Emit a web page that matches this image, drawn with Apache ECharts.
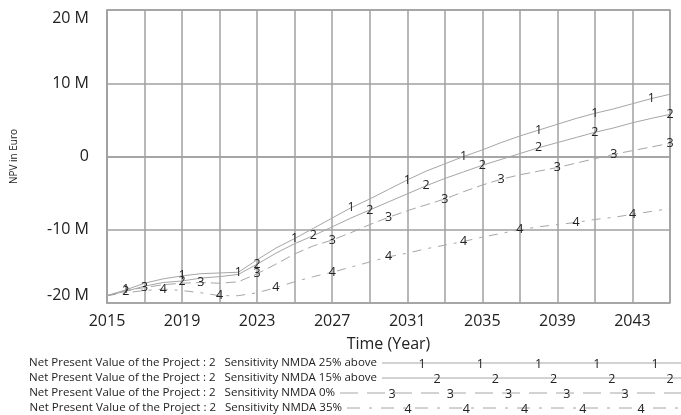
<!DOCTYPE html>
<html>
<head>
<meta charset="utf-8">
<script src="https://cdn.jsdelivr.net/npm/echarts@6/dist/echarts.min.js"></script>
<style>
  html, body { margin: 0; padding: 0; background: #fff; }
  #chart { width: 681px; height: 415px; }
</style>
</head>
<body>
<div id="chart"></div>
<script>
// years on the time axis
var years = [2015, 2016, 2017, 2018, 2019, 2020, 2021, 2022, 2023, 2024, 2025, 2026, 2027, 2028, 2029, 2030,
  2031, 2032, 2033, 2034, 2035, 2036, 2037, 2038, 2039, 2040, 2041, 2042, 2043, 2044, 2045]

// NPV in million euro
var npv25above = [-19.0, -18.2, -17.3, -16.7, -16.3, -16.0, -15.9, -15.8, -14.1, -12.5, -11.2, -9.8, -8.4, -7.0, -5.8, -4.5,
  -3.2, -2.0, -1.0, 0.0, 0.9, 1.9, 2.8, 3.6, 4.4, 5.2, 5.9, 6.5, 7.2, 7.9, 8.5]
var npv15above = [-19.0, -18.4, -17.7, -17.2, -17.0, -16.6, -16.4, -16.1, -14.7, -13.2, -11.9, -10.8, -9.6, -8.4, -7.3, -6.2,
  -5.1, -4.0, -3.0, -2.1, -1.2, -0.4, 0.4, 1.2, 1.9, 2.6, 3.3, 3.9, 4.6, 5.2, 5.75]
var npv0 = [-19.0, -18.3, -17.9, -17.5, -17.3, -17.2, -17.3, -17.1, -16.0, -14.7, -13.3, -12.2, -11.4, -10.4, -9.3, -8.3,
  -7.4, -6.6, -5.8, -4.8, -3.9, -3.1, -2.5, -2.0, -1.5, -0.9, -0.3, 0.3, 0.8, 1.3, 1.8]
var npv35 = [-19.0, -18.6, -18.3, -18.1, -18.3, -18.6, -19.0, -19.0, -18.6, -17.9, -17.1, -16.4, -15.8, -15.1, -14.4, -13.7,
  -13.2, -12.6, -12.1, -11.6, -11.0, -10.5, -10.0, -9.6, -9.3, -9.0, -8.6, -8.3, -7.9, -7.5, -7.1]

// years where the run number is written on each line
var marks25above = [2016, 2019, 2022, 2025, 2028, 2031, 2034, 2038, 2041, 2044]
var marks15above = [2016, 2019, 2023, 2026, 2029, 2032, 2035, 2038, 2041, 2045]
var marks0 = [2017, 2020, 2023, 2027, 2030, 2033, 2036, 2039, 2042, 2045]
var marks35 = [2018, 2021, 2024, 2027, 2030, 2034, 2037, 2040, 2043]

var namePrefix = 'Net Present Value of the Project : 2'
var sensitivityNames = ['Sensitivity NMDA 25% above', 'Sensitivity NMDA 15% above', 'Sensitivity NMDA 0%', 'Sensitivity NMDA 35%']

var yTicks = [-20, -10, 0, 10, 20]

var FONT = 'Open Sans'
var LINE = '#a6a6a6'
var TEXT = '#222'

var runs = [
  { values: npv25above, marks: marks25above, digit: '1', dash: 'solid', keyDash: '', keyWidth: 299, keyFirst: 40 },
  { values: npv15above, marks: marks15above, digit: '2', dash: 'solid', keyDash: '', keyWidth: 299, keyFirst: 55 },
  { values: npv0, marks: marks0, digit: '3', dash: [10, 5], keyDash: '18 9', keyWidth: 341, keyFirst: 52 },
  { values: npv35, marks: marks35, digit: '4', dash: [9, 7, 3, 7], keyDash: '13 9 3 9', keyWidth: 334, keyFirst: 61 }
]

function keyIcon(run) {
  var w = run.keyWidth
  var s = '<svg xmlns="http://www.w3.org/2000/svg" width="' + w + '" height="12">'
  s += '<line x1="0" y1="6" x2="' + w + '" y2="6" stroke="' + LINE + '" stroke-width="1"' +
    (run.keyDash ? ' stroke-dasharray="' + run.keyDash + '"' : '') + '/>'
  for (var x = run.keyFirst; x < w; x += 58.3) {
    s += '<text x="' + x + '" y="10.5" font-family="' + FONT + '" font-size="12.5" fill="#222" text-anchor="middle">' + run.digit + '</text>'
  }
  s += '</svg>'
  return 'image://data:image/svg+xml;charset=utf-8,' + encodeURIComponent(s)
}

var series = []
var legends = []
var keyTops = [357, 372, 387, 402]
runs.forEach(function(run, k) {
  var name = namePrefix + '  ' + sensitivityNames[k]
  series.push({
    name: name,
    type: 'line',
    symbol: 'none',
    silent: true,
    lineStyle: { color: LINE, width: 1, type: run.dash },
    itemStyle: { color: LINE },
    label: {
      show: false,
      position: 'inside',
      formatter: run.digit,
      color: '#222',
      fontFamily: FONT,
      fontSize: 12.5
    },
    data: years.map(function(yr, i) {
      if (run.marks.indexOf(yr) >= 0) {
        return { value: [yr, run.values[i]], symbol: 'circle', symbolSize: 0, label: { show: true } }
      }
      return [yr, run.values[i]]
    })
  })
  legends.push({
    data: [{ name: name, icon: keyIcon(run) }],
    right: 0,
    top: keyTops[k],
    padding: 0,
    align: 'right',
    itemWidth: run.keyWidth,
    itemHeight: 12,
    selectedMode: false,
    formatter: function(n) {
      return '{a|' + namePrefix + '}{b|' + n.slice(namePrefix.length + 2) + '}'
    },
    textStyle: {
      color: TEXT,
      fontFamily: FONT,
      fontSize: 11.5,
      rich: {
        a: { color: TEXT, fontFamily: FONT, fontSize: 11.5 },
        b: { color: TEXT, fontFamily: FONT, fontSize: 11.5, padding: [0, 0, 0, 9] }
      }
    }
  })
})

var chart = echarts.init(document.getElementById('chart'))
chart.setOption({
  animation: false,
  backgroundColor: '#fff',
  grid: {
    left: 107,
    right: 11,
    top: 10,
    bottom: 112,
    show: true,
    borderColor: '#a0a0a0',
    borderWidth: 1.5
  },
  legend: legends,
  xAxis: {
    type: 'value',
    min: years[0],
    max: years[years.length - 1],
    interval: 2,
    name: 'Time (Year)',
    nameLocation: 'middle',
    nameGap: 33,
    nameTextStyle: { color: TEXT, fontFamily: FONT, fontSize: 16 },
    axisLine: { show: true, lineStyle: { color: '#a0a0a0', width: 1.5 } },
    axisTick: { show: false },
    splitLine: { show: true, lineStyle: { color: '#a0a0a0', width: 1.5 } },
    axisLabel: {
      color: TEXT,
      fontFamily: FONT,
      fontSize: 16,
      margin: 10,
      formatter: function(v) {
        return (v - years[0]) % 4 === 0 ? String(v) : ''
      }
    }
  },
  yAxis: {
    type: 'value',
    min: yTicks[0],
    max: yTicks[yTicks.length - 1],
    interval: 10,
    name: 'NPV in Euro',
    nameLocation: 'middle',
    nameGap: 88,
    nameTextStyle: { color: TEXT, fontFamily: FONT, fontSize: 10 },
    axisLine: { show: true, lineStyle: { color: '#a0a0a0', width: 1.5 } },
    axisTick: { show: false },
    splitLine: { show: true, lineStyle: { color: '#a0a0a0', width: 1.5 } },
    axisLabel: {
      color: TEXT,
      fontFamily: FONT,
      fontSize: 16,
      margin: 18,
      verticalAlignMaxLabel: 'top',
      verticalAlignMinLabel: 'bottom',
      formatter: function(v) {
        return v === 0 ? '0' : v + ' M'
      }
    }
  },
  series: series
})
</script>
</body>
</html>
